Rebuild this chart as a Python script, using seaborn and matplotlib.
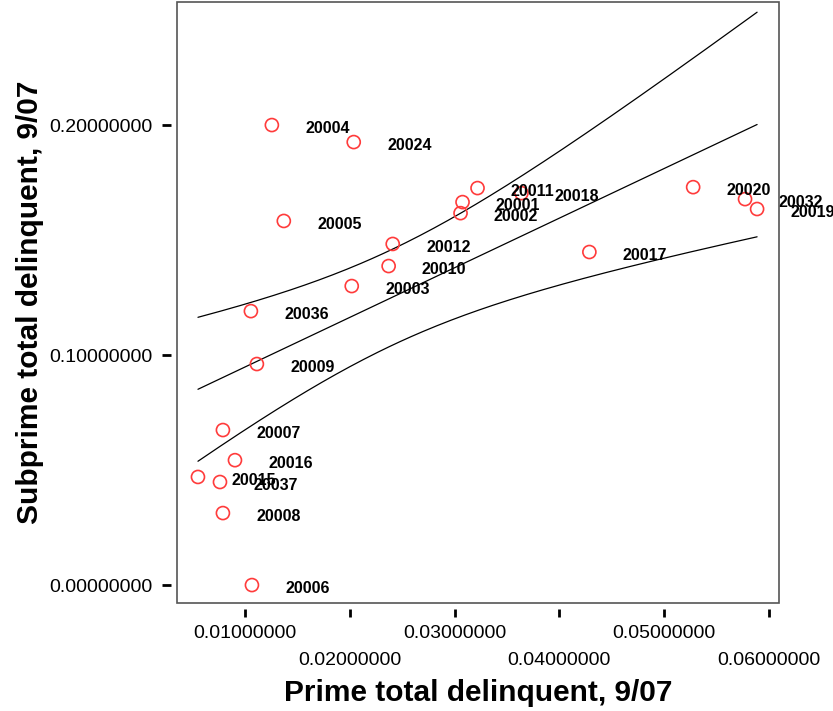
import numpy as np
import pandas as pd
import matplotlib
matplotlib.use("Agg")
import matplotlib.pyplot as plt
from matplotlib.patches import Rectangle
import seaborn as sns

# Prime vs subprime total delinquency rates (September 2007), by district
districts = ["20004", "20024", "20005", "20012", "20010", "20003", "20036",
             "20009", "20007", "20016", "20015", "20037", "20008", "20006",
             "20001", "20002", "20011", "20018", "20017", "20020", "20032",
             "20019"]
prime = [0.01257, 0.02038, 0.01371, 0.02410, 0.02371, 0.02019, 0.01057,
         0.01114, 0.00790, 0.00905, 0.00552, 0.00762, 0.00790, 0.01067,
         0.03076, 0.03057, 0.03219, 0.03638, 0.04286, 0.05276, 0.05771,
         0.05886]
subprime = [0.2000, 0.1926, 0.1583, 0.1483, 0.1387, 0.1300, 0.1191,
            0.0961, 0.0674, 0.0543, 0.0470, 0.0448, 0.0313, 0.0000,
            0.1665, 0.1617, 0.1726, 0.1704, 0.1448, 0.1730, 0.1678,
            0.1635]

x_ticks_upper = [0.01, 0.03, 0.05]
x_ticks_lower = [0.02, 0.04, 0.06]
y_ticks = [0.0, 0.1, 0.2]

df = pd.DataFrame({"district": districts, "prime": prime, "subprime": subprime})

sns.set_theme(style="white")
plt.rcParams["font.family"] = ["Liberation Sans", "DejaVu Sans"]
plt.rcParams.update({"text.color": "black", "axes.labelcolor": "black",
                     "xtick.color": "black", "ytick.color": "black"})

fig = plt.figure(figsize=(8.33, 7.11), dpi=100)
ax = fig.add_axes([177 / 833, 1 - 603 / 711, (779 - 177) / 833, (603 - 2) / 711])

# Least-squares fit with 95% confidence band for the mean
x = df["prime"].to_numpy()
y = df["subprime"].to_numpy()
n = len(x)
b1, b0 = np.polyfit(x, y, 1)
resid = y - (b0 + b1 * x)
s = np.sqrt(np.sum(resid ** 2) / (n - 2))
t_crit = 2.093  # two-sided 95%, df = n - 2
xs = np.linspace(x.min(), x.max(), 200)
fit = b0 + b1 * xs
se = s * np.sqrt(1 / n + (xs - x.mean()) ** 2 / np.sum((x - x.mean()) ** 2))
for yy in (fit, fit + t_crit * se, fit - t_crit * se):
    ax.plot(xs, yy, color="black", lw=0.9, zorder=2)

sns.scatterplot(data=df, x="prime", y="subprime", ax=ax, marker="o",
                s=88, facecolor="none", edgecolor="#ff3b3b", linewidth=1.2,
                zorder=3, legend=False)

for d, px, py in zip(districts, prime, subprime):
    ax.annotate(d, (px, py), xytext=(24, -2.5), textcoords="offset points",
                ha="left", va="center", fontsize=11.5, fontweight="bold",
                color="black", zorder=4)

ax.set_xlim(0.00352, 0.06095)
ax.set_ylim(-0.0078, 0.2535)

# staggered x tick labels: odd hundredths on the first row, even on the second
fmt = lambda v: f"{v:.8f}"
ax.set_xticks(x_ticks_upper)
ax.set_xticklabels([fmt(v) for v in x_ticks_upper])
ax.set_xticks(x_ticks_lower, minor=True)
ax.set_xticklabels([fmt(v) for v in x_ticks_lower], minor=True)
ax.set_yticks(y_ticks)
ax.set_yticklabels([fmt(v) for v in y_ticks])

ax.tick_params(axis="x", which="both", direction="out", length=5.5, width=2,
               color="black", labelcolor="black", labelsize=14, bottom=True)
ax.tick_params(axis="x", which="major", pad=6)
ax.tick_params(axis="x", which="minor", pad=26)
ax.tick_params(axis="y", which="major", direction="out", length=6.5, width=2,
               color="black", labelcolor="black", labelsize=14, pad=7,
               left=True)

for side in ("left", "bottom"):
    ax.spines[side].set_position(("outward", 4))
for sp in ax.spines.values():
    sp.set_visible(False)
ax.add_patch(Rectangle((0, 0), 1, 1, transform=ax.transAxes, fill=False,
                       edgecolor="#555555", lw=1.2, clip_on=False, zorder=5))

ax.set_xlabel("Prime total delinquent, 9/07", fontsize=21.5, fontweight="bold",
              color="black", labelpad=7)
ax.set_ylabel("Subprime total delinquent, 9/07", fontsize=21.5,
              fontweight="bold", color="black", labelpad=4)

fig.savefig("out.png", dpi=100)
